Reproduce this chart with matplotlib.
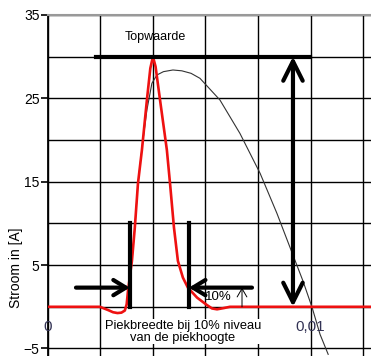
import numpy as np
import matplotlib.pyplot as plt

plt.rcParams['font.family'] = ['Liberation Sans', 'DejaVu Sans']

# stroompuls (rood), tijd in s, stroom in A
puls_t = [0.0, 0.00198, 0.00230, 0.00248, 0.00265, 0.00280, 0.00293, 0.00300, 0.00305,
          0.00312, 0.00320, 0.00331, 0.00343, 0.00358, 0.00377, 0.00390, 0.00400,
          0.00410, 0.00427, 0.00453, 0.00465, 0.00480, 0.00495, 0.00514, 0.00533,
          0.00568, 0.00606, 0.00625, 0.00644, 0.00670, 0.00693, 0.0125]
puls_i = [0.0, 0.0, -0.4, -0.65, -0.75, -0.7, -0.45, 0.3, 1.9,
          3.6, 5.5, 9.5, 14.8, 18.8, 24.8, 28.6, 30.0,
          28.8, 24.8, 18.8, 14.8, 9.5, 5.5, 3.5, 2.3,
          1.1, 0.2, -0.2, -0.3, -0.15, 0.0, 0.0]

# dunne zwarte kromme
kromme_t = [0.00320, 0.00331, 0.00343, 0.00360, 0.00377, 0.00396, 0.00415, 0.00440,
            0.00476, 0.00510, 0.00545, 0.00579, 0.00655, 0.00731, 0.00808, 0.00872,
            0.00922, 0.00971, 0.01006, 0.01036, 0.01067]
kromme_i = [5.5, 9.5, 14.8, 19.5, 23.6, 26.8, 27.8, 28.2,
            28.4, 28.3, 28.0, 27.4, 24.8, 20.8, 16.0, 11.2,
            7.1, 3.1, -0.1, -3.3, -5.7]

topwaarde = 30.0
niveau_10 = 2.3
t_links, t_rechts = 0.00312, 0.00537

fig = plt.figure(figsize=(3.71, 3.56), dpi=100)
ax = fig.add_axes([0.129, 0.0, 0.871, 0.958])
ax.set_xlim(0, 0.0123)
ax.set_ylim(-5.9, 35)

ax.set_yticks([-5, 5, 15, 25, 35])
ax.set_yticks([0, 10, 20, 30], minor=True)
ax.set_xticks(np.arange(0, 0.0124, 0.002))
ax.tick_params(axis='x', length=0, labelbottom=False)
ax.tick_params(axis='y', which='major', length=5, width=1.2, labelsize=10, pad=1)
ax.tick_params(axis='y', which='minor', length=0)
ax.grid(True, which='both', color='black', linewidth=1.0)
ax.set_axisbelow(True)
for s in ['right', 'bottom']:
    ax.spines[s].set_visible(False)
ax.spines['top'].set_color('#999999')
ax.spines['top'].set_linewidth(1.5)
ax.spines['left'].set_linewidth(1.3)

ax.set_ylabel('Stroom in [A]', fontsize=10)
ax.yaxis.set_label_coords(-0.077, 0.26)

ax.plot(kromme_t, kromme_i, color='#333333', linewidth=0.8, zorder=3)
ax.plot(puls_t, puls_i, color='#ee1111', linewidth=1.9, zorder=4)

# topwaarde
ax.plot([0.00183, 0.00998], [topwaarde, topwaarde], color='black', linewidth=3, zorder=5)
ax.text(0.00408, 31.6, 'Topwaarde', fontsize=9, ha='center', va='bottom')
ax.annotate('', xy=(0.00933, topwaarde), xytext=(0.00933, 0),
            arrowprops=dict(arrowstyle='<->,head_length=1.4,head_width=0.7',
                            color='black', lw=3, mutation_scale=10,
                            shrinkA=0, shrinkB=0), zorder=5)

# piekbreedte
for t in [t_links, t_rechts]:
    ax.plot([t, t], [0, 10], color='black', linewidth=3, zorder=5)
ax.annotate('', xy=(t_links, niveau_10), xytext=(0.00107, niveau_10),
            arrowprops=dict(arrowstyle='->,head_length=0.9,head_width=0.55',
                            color='black', lw=3, mutation_scale=10,
                            shrinkA=0, shrinkB=0), zorder=5)
ax.annotate('', xy=(t_rechts, niveau_10), xytext=(0.00777, niveau_10),
            arrowprops=dict(arrowstyle='->,head_length=0.9,head_width=0.55',
                            color='black', lw=3, mutation_scale=10,
                            shrinkA=0, shrinkB=0), zorder=5)
ax.annotate('', xy=(0.00739, niveau_10), xytext=(0.00739, 0),
            arrowprops=dict(arrowstyle='->,head_length=0.6,head_width=0.35',
                            color='black', lw=0.7, mutation_scale=10,
                            shrinkA=0, shrinkB=0), zorder=5)
ax.text(0.00648, 1.15, '10%', fontsize=9.5, ha='center', va='center', zorder=6)

ax.text(0.00514, -3.0, 'Piekbreedte bij 10% niveau\nvan de piekhoogte', fontsize=9.3,
        ha='center', va='center', linespacing=1.0, zorder=6,
        bbox=dict(facecolor='white', edgecolor='none', pad=0.5))

ax.text(0.0, -2.4, '0', fontsize=11, color='#333355', ha='center', va='center', zorder=6)
ax.text(0.00998, -2.4, '0,01', fontsize=11, color='#333355', ha='center', va='center', zorder=6)

fig.savefig('out.png', dpi=100)
